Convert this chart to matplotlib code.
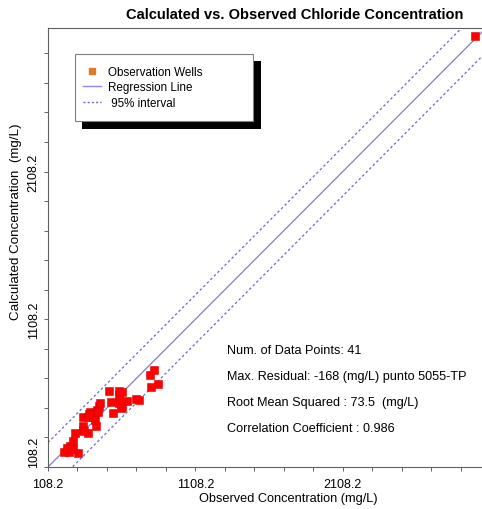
import numpy as np
import matplotlib.pyplot as plt
from matplotlib.patches import Rectangle
from matplotlib.lines import Line2D
from matplotlib.ticker import MultipleLocator

plt.rcParams['font.family'] = ['Liberation Sans', 'DejaVu Sans']

# observed vs calculated chloride (mg/L)
observed = [217, 250, 278, 312, 257, 278, 291, 345, 379, 345,
            434, 427, 345, 379, 413, 393, 440, 454, 461, 420,
            549, 610, 535, 590, 644, 705, 725, 590, 522, 590,
            610, 800, 827, 854, 806, 3003, 352, 447, 237, 603,
            386]
calculated = [210, 210, 230, 203, 251, 284, 339, 359, 339, 386,
              386, 427, 447, 447, 447, 481, 495, 522, 542, 468,
              474, 515, 549, 542, 556, 569, 562, 596, 623, 623,
              617, 732, 766, 671, 651, 3024, 352, 481, 237, 508,
              470]

axis_min = 108.2
axis_max = 3080
tick_values = [108.2, 1108.2, 2108.2]
tick_labels = ['108.2', '1108.2', '2108.2']

reg_slope = 1.0
reg_intercept = 0.0
interval_half = 165

stats_lines = ['Num. of Data Points: 41',
               'Max. Residual: -168 (mg/L) punto 5055-TP',
               'Root Mean Squared : 73.5  (mg/L)',
               'Correlation Coefficient : 0.986']

fig = plt.figure(figsize=(4.82, 5.10), dpi=100)
ax = fig.add_axes([48 / 482, 42 / 510, 438 / 482, 439 / 510])

xs = np.array([axis_min, axis_max])
reg = reg_slope * xs + reg_intercept
ax.plot(xs, reg, color='#8080c0', lw=0.9, zorder=2)
ax.plot(xs, reg + interval_half, color='#6a6ac0', lw=0.9, ls=(0, (2, 2)), zorder=2)
ax.plot(xs, reg - interval_half, color='#6a6ac0', lw=0.9, ls=(0, (2, 2)), zorder=2)

ax.scatter(observed, calculated, marker='s', s=32, color='#ff0000',
           edgecolor='#e00000', linewidth=0.4, zorder=3)

ax.set_xlim(axis_min, axis_max)
ax.set_ylim(axis_min, axis_max)
ax.set_xticks(tick_values)
ax.set_xticklabels(tick_labels)
ax.set_yticks(tick_values)
ax.set_yticklabels(tick_labels, rotation=90, va='center')
ax.get_yticklabels()[0].set_va('bottom')
ax.xaxis.set_minor_locator(MultipleLocator(200, offset=axis_min))
ax.yaxis.set_minor_locator(MultipleLocator(200, offset=axis_min))
ax.tick_params(which='both', direction='out', length=3, width=0.7,
               color='#606060', labelsize=9, pad=3)
ax.tick_params(axis='x', pad=5)
for sp in ax.spines.values():
    sp.set_color('#606060')
    sp.set_linewidth(0.8)

ax.set_xlabel('Observed Concentration (mg/L)', fontsize=9.2)
ax.xaxis.set_label_coords((288 - 48) / 438, -25 / 439)
ax.set_ylabel('Calculated Concentration  (mg/L)', fontsize=9.6)
ax.yaxis.set_label_coords(-26 / 438, (468 - 222) / 439)

fig.text(295 / 482, 1 - 15 / 510, 'Calculated vs. Observed Chloride Concentration',
         ha='center', va='center', fontsize=10.5, fontweight='bold')

for i, s in enumerate(stats_lines):
    fig.text(227 / 482, 1 - (351 + i * 26) / 510, s, ha='left', va='center', fontsize=9.1)

# legend box with a solid black drop shadow
fig.patches.append(Rectangle((82 / 482, 1 - 130 / 510), 179 / 482, 68 / 510,
                             transform=fig.transFigure, facecolor='black',
                             edgecolor='none', zorder=5))
fig.patches.append(Rectangle((75 / 482, 1 - 122 / 510), 178 / 482, 67 / 510,
                             transform=fig.transFigure, facecolor='white',
                             edgecolor='#808080', linewidth=0.8, zorder=6))
handles = [Line2D([], [], marker='s', ls='none', color='#e07a2a', markersize=4.5),
           Line2D([], [], color='#8888ff', lw=1),
           Line2D([], [], color='#6a6ad0', lw=1, ls=(0, (1.5, 1.5)))]
leg = fig.legend(handles, ['Observation Wells', 'Regression Line', ' 95% interval'],
                 loc='upper left', bbox_to_anchor=(83 / 482, 1 - 67 / 510),
                 frameon=False, fontsize=8.4, handlelength=1.5, handletextpad=0.6,
                 labelspacing=0.3, borderpad=0, borderaxespad=0)
leg.set_zorder(7)

fig.savefig('out.png', dpi=100)
